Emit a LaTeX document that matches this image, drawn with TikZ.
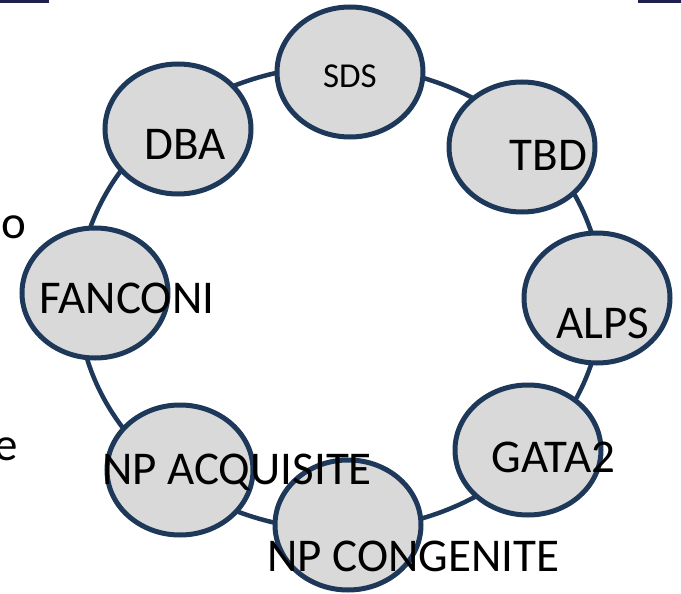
\documentclass[tikz,border=0pt]{standalone}
\usepackage{fontspec}
\setmainfont{Carlito}
\usetikzlibrary{shapes.geometric, positioning, calc}
\definecolor{ringblue}{RGB}{30,56,90}
\definecolor{bubblegray}{RGB}{217,217,217}
\definecolor{barnavy}{RGB}{32,32,80}

\begin{document}
\begin{tikzpicture}[x=1pt, y=-1pt,
    bubble/.style={ellipse, draw=ringblue, fill=bubblegray, line width=5pt,
        minimum width=146pt, minimum height=130pt, inner sep=0pt},
    tag/.style={anchor=base, inner sep=0pt, font=\fontsize{47}{47}\selectfont}]
    \useasboundingbox (0,0) rectangle (681,594);

    % Slide bars at the top edge
    \fill[barnavy] (0,0) rectangle (49,3);
    \fill[barnavy] (638,0) rectangle (681,3);

    % Cut-off text at the left edge
    \node[tag, anchor=base east] (edgeo) at (26,238) {o};
    \node[tag, anchor=base east] (edgee) at (18,460) {e};

    % Ring
    \coordinate (hub) at (340,298);
    \draw[ringblue, line width=4.5pt] (hub) ellipse [x radius=262, y radius=232];

    % Bubbles on the ring
    \foreach \n/\x/\y in {sds/350/72, dba/178/129, tbd/522/147, fanconi/95/293,
        alps/597/298, gata/528/450, npacq/180/470, npcong/348/525} {
        \node[bubble] (\n) at (\x,\y) {};
    }

    % Labels
    \node[tag, font=\fontsize{35}{35}\selectfont] (sds-txt) at (350,88) {SDS};
    \foreach \n/\t/\x/\y in {dba/DBA/185/159, tbd/TBD/548.5/170,
        fanconi/FANCONI/127/313, alps/ALPS/602.5/338, gata/GATA2/553.5/472,
        npacq/NP ACQUISITE/237/484, npcong/NP CONGENITE/413.5/571} {
        \node[tag] (\n-txt) at (\x,\y) {\t};
    }
\end{tikzpicture}
\end{document}
